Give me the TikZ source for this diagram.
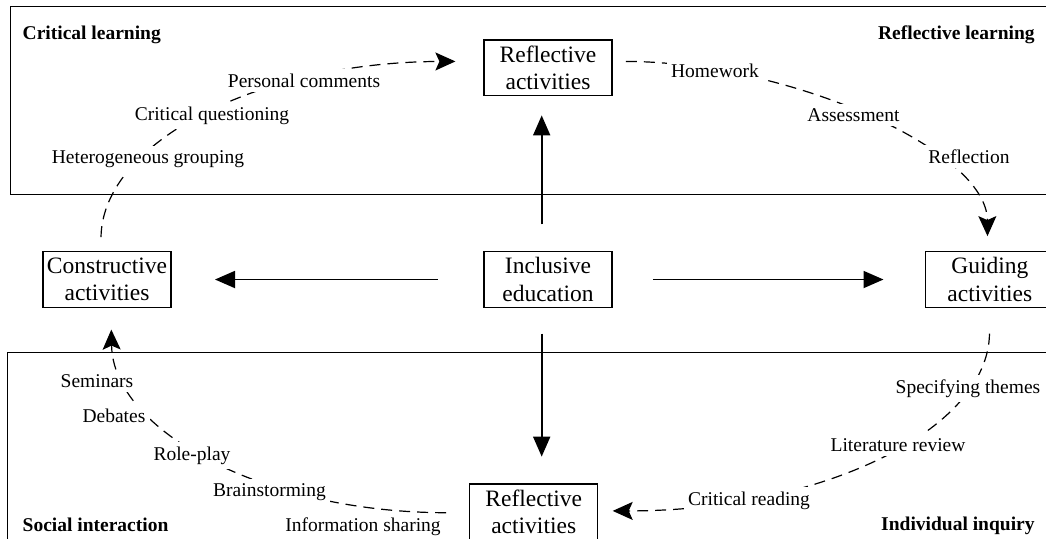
\documentclass[tikz,border=0pt]{standalone}
\usepackage{fontspec}
\setmainfont{Liberation Serif}
\usetikzlibrary{arrows.meta, positioning}

\begin{document}
\begin{tikzpicture}[x=0.5pt, y=-0.5pt,
    act/.style={draw, line width=0.6pt, align=center, inner sep=0pt, minimum width=64pt, minimum height=27.8pt, font=\fontsize{11.75}{13.65}\selectfont},
    lbl/.style={fill=white, inner sep=2.2pt, anchor=base, font=\fontsize{9.75}{11.7}\selectfont},
    hdr/.style={inner sep=0pt, font=\fontsize{9.75}{11.7}\selectfont\bfseries},
    arr/.style={-{Triangle[length=10pt, width=8.5pt]}, line width=0.9pt},
    darr/.style={-{Stealth[length=10pt, width=9pt, inset=2pt]}, line width=0.6pt, dash pattern=on 5.5pt off 3.5pt},
    frame/.style={line width=0.5pt}]
  \useasboundingbox (0,0) rectangle (1046,538);
  % the two panels
  \draw[frame] (10.7,6) rectangle (1060,194.3);
  \draw[frame] (7,352.7) rectangle (1060,560);
  \node[hdr, anchor=base west] (hcrit) at (22.3,39) {Critical learning};
  \node[hdr, anchor=base east] (hrefl) at (1035,39) {Reflective learning};
  \node[hdr, anchor=base west] (hsoc) at (22.3,531.7) {Social interaction};
  \node[hdr, anchor=base east] (hind) at (1035,530) {Individual inquiry};

  \node[act] (incl) at (548,279.5) {Inclusive\\education};
  \node[act, above=77.5pt of incl] (refT) {Reflective\\activities};
  \node[act, left=155.9pt of incl] (cons) {Constructive\\activities};
  \node[act, right=156.3pt of incl] (guid) {Guiding\\activities};
  \node[act, below=87.7pt of incl, xshift=-7.15pt] (refB) {Reflective\\activities};

  \draw[arr] ([shift={(-45.7,0)}]incl.west) -- ([shift={(43.4,0)}]cons.east);
  \draw[arr] ([shift={(40.3,0)}]incl.east) -- ([shift={(-41.7,0)}]guid.west);
  \draw[arr] ([shift={(-6.3,-26.7)}]incl.north) -- ([shift={(-6.3,19.3)}]refT.south);
  \draw[arr] ([shift={(-6.3,25.7)}]incl.south) -- ([shift={(8,-26.7)}]refB.north);

  % dashed cycle
  \draw[darr] ([shift={(-6,-14)}]cons.north) .. controls (102.7,140.7) and (261,62) .. ([shift={(-28,-6.3)}]refT.west);
  \draw[darr] ([shift={(13.3,-6.3)}]refT.east) .. controls (790,62) and (987,150) .. ([shift={(-2.3,-15)}]guid.north);
  \draw[darr] ([shift={(-0.3,25.7)}]guid.south) .. controls (988,431) and (819.5,511) .. ([shift={(14.4,-0.8)}]refB.east);
  \draw[darr] ([shift={(-23,1)}]refB.west) .. controls (262.6,512.5) and (113,430.3) .. ([shift={(4.3,21.7)}]cons.south);

  \node[lbl] (pers) at (304,87) {Personal comments};
  \node[lbl] (quest) at (212,120.7) {Critical questioning};
  \node[lbl] (group) at (148,163.3) {Heterogeneous grouping};
  \node[lbl] (home) at (715,77) {Homework};
  \node[lbl] (assess) at (853.5,121.7) {Assessment};
  \node[lbl] (reflec) at (969,163) {Reflection};
  \node[lbl] (themes) at (968,393.3) {Specifying themes};
  \node[lbl] (review) at (898,451.7) {Literature review};
  \node[lbl] (reading) at (749,505) {Critical reading};
  \node[lbl] (semin) at (97,387.3) {Seminars};
  \node[lbl] (debat) at (114,422.7) {Debates};
  \node[lbl] (role) at (192,460) {Role-play};
  \node[lbl] (brain) at (269.5,496.7) {Brainstorming};
  \node[lbl] (share) at (363,531.7) {Information sharing};
\end{tikzpicture}
\end{document}
